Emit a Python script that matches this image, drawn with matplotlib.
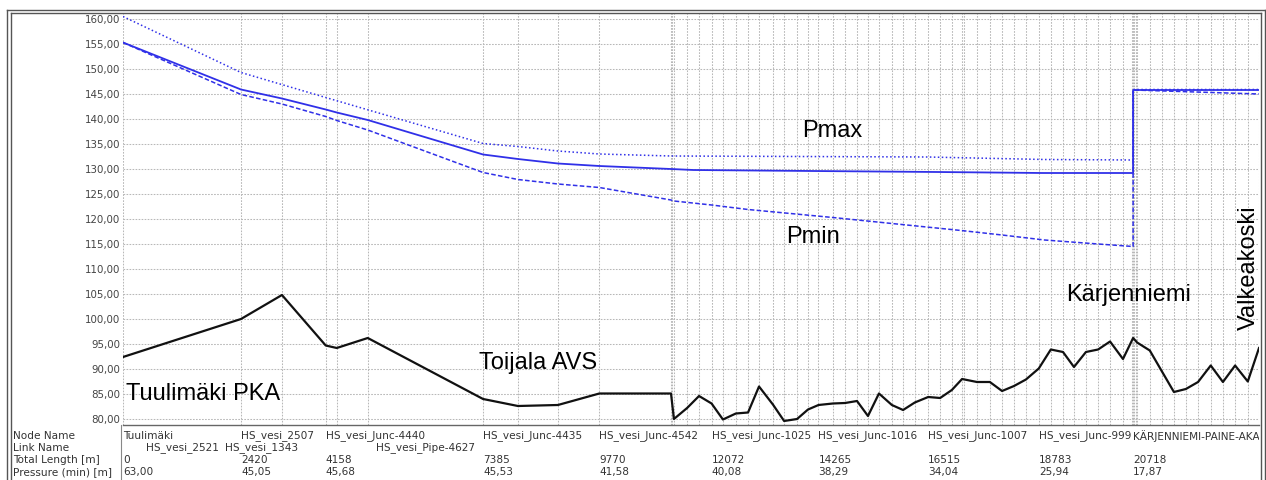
import numpy as np
import matplotlib

matplotlib.use("Agg")
import matplotlib.pyplot as plt
from matplotlib import transforms
from matplotlib.lines import Line2D
from matplotlib.ticker import FuncFormatter

# profile nodes: distance along the route [m] and ground level
node_m = [0, 2420, 3260, 4158, 4384, 5020, 7385, 8100, 8920, 9770,
          11240, 11300, 11570, 11815, 12072, 12305, 12570, 12820, 13045, 13330,
          13560, 13825, 14050, 14265, 14560, 14810, 15055, 15280, 15505, 15770,
          16000, 16240, 16515, 16760, 17000, 17210, 17515, 17780, 18030, 18275,
          18520, 18783, 19030, 19280, 19505, 19750, 20000, 20245, 20510, 20718,
          20800, 21060, 21310, 21555, 21800, 22050, 22310, 22560, 22810, 23070,
          23300]
ground = [92.4, 100.0, 104.8, 94.7, 94.2, 96.2, 84.0, 82.6, 82.8, 85.1,
          85.1, 80.0, 82.2, 84.6, 83.1, 79.9, 81.1, 81.3, 86.5, 82.9,
          79.6, 80.0, 81.9, 82.8, 83.1, 83.2, 83.6, 80.6, 85.1, 82.8,
          81.8, 83.3, 84.4, 84.2, 85.8, 88.0, 87.4, 87.4, 85.6, 86.6,
          87.9, 90.1, 93.9, 93.4, 90.4, 93.4, 93.9, 95.5, 92.0, 96.2,
          95.3, 93.7, 89.5, 85.4, 86.0, 87.4, 90.7, 87.4, 90.7, 87.5,
          94.2]
# closely spaced nodes that show as thicker grid bands
extra_nodes = [11270, 17250, 20700, 20740, 20770]

# hydraulic grade lines
hgl_m = [0, 2420, 3260, 4158, 4384, 5020, 7385, 8100, 8920, 9770, 11240,
         11700, 14150, 16700, 18850, 20718, 20718, 23300]
hgl = [155.3, 145.9, 144.1, 141.9, 141.3, 139.8, 132.9, 132.0, 131.1, 130.6, 130.0,
       129.8, 129.6, 129.4, 129.2, 129.2, 145.8, 145.8]

pmax_m = [0, 2420, 4158, 7385, 8100, 8920, 9770, 11240, 16500, 18900, 20718, 20718, 23300]
pmax = [160.5, 149.3, 144.3, 135.1, 134.5, 133.6, 133.0, 132.6, 132.4, 131.9, 131.8, 145.9, 145.9]

pmin_m = [0, 2420, 3260, 4158, 4384, 5020, 7385, 8100, 8920, 9770, 11240, 11300,
          12072, 12820, 14560, 15770, 17190, 18030, 18900, 20000, 20718, 20718, 23300]
pmin = [155.3, 144.9, 143.0, 140.5, 139.7, 137.8, 129.3, 127.9, 127.0, 126.3, 123.8, 123.6,
        122.8, 121.9, 120.3, 119.1, 117.7, 116.8, 115.8, 115.0, 114.5, 145.8, 145.0]

# table below the profile
row_names = ["Node Name", "Link Name", "Total Length [m]", "Pressure (min) [m]"]
table_m = [0, 2420, 4158, 7385, 9770, 12072, 14265, 16515, 18783, 20718]
table_nodes = ["Tuulimäki", "HS_vesi_2507", "HS_vesi_Junc-4440", "HS_vesi_Junc-4435",
               "HS_vesi_Junc-4542", "HS_vesi_Junc-1025", "HS_vesi_Junc-1016",
               "HS_vesi_Junc-1007", "HS_vesi_Junc-999", "KÄRJENNIEMI-PAINE-AKA"]
table_len = ["0", "2420", "4158", "7385", "9770", "12072", "14265", "16515", "18783", "20718"]
table_press = ["63,00", "45,05", "45,68", "45,53", "41,58", "40,08", "38,29", "34,04",
               "25,94", "17,87"]
link_from = [0, 2420, 5020]
link_to = [2420, 3260, 7385]
link_names = ["HS_vesi_2521", "HS_vesi_1343", "HS_vesi_Pipe-4627"]

# place names written on the chart
places = ["Tuulimäki PKA", "Toijala AVS", "Kärjenniemi", "Pmax", "Pmin"]
place_m = [60, 7300, 19340, 13920, 13600]
place_y = [85.0, 91.2, 104.8, 137.6, 116.4]

W, H = 1266, 480
fig = plt.figure(figsize=(W / 100, H / 100), dpi=100)
ax = fig.add_axes([123 / W, 1 - 425 / H, (1259 - 123) / W, (425 - 13) / H])

grid_kw = dict(color="#b8b8b8", linewidth=0.75, linestyle=(0, (1.6, 1.3)), zorder=1)
for v in list(node_m) + extra_nodes:
    ax.axvline(v, **grid_kw)
yt = np.arange(80, 161, 5)
for v in yt:
    ax.axhline(v, **grid_kw)

blue = "#3030e8"
ax.plot(pmax_m, pmax, color=blue, lw=1.1, linestyle=(0, (1.0, 1.6)), zorder=3)
ax.plot(pmin_m, pmin, color=blue, lw=1.1, linestyle=(0, (3.0, 1.5)), zorder=3)
ax.plot(hgl_m, hgl, color=blue, lw=1.3, zorder=4)
ax.plot(node_m, ground, color="#111111", lw=1.6, zorder=5)

ax.set_xlim(0, 23300)
ax.set_ylim(78.8, 161.2)
ax.set_xticks([])
ax.set_yticks(yt)
ax.yaxis.set_major_formatter(FuncFormatter(lambda v, _: f"{v:.2f}".replace(".", ",")))
ax.tick_params(axis="y", length=0, pad=2, labelsize=7.4, labelcolor="#444444")
for side in ("top", "right", "left"):
    ax.spines[side].set_visible(False)
ax.spines["bottom"].set_color("#666666")
ax.spines["bottom"].set_linewidth(1.0)

big = dict(fontsize=17, family="Liberation Sans", color="black", zorder=6)
for name, xm, yv in zip(places, place_m, place_y):
    ax.text(xm, yv, name, ha="left", va="center", **big)
ax.text(1260 / W, 1 - 268 / H, "Valkeakoski", rotation=90, ha="right", va="center",
        transform=fig.transFigure, **big)

# table text
tr = transforms.blended_transform_factory(ax.transData, fig.transFigure)
row_y = [436, 448, 460, 472]
tkw = dict(fontsize=7.6, color="#333333", va="center")
clip = transforms.TransformedBbox(transforms.Bbox([[0, 0], [1259 / W, 1]]), fig.transFigure)
for name, yp in zip(row_names, row_y):
    fig.text(13 / W, 1 - yp / H, name, ha="left", **tkw)
for xm, nd, ln, pr in zip(table_m, table_nodes, table_len, table_press):
    for txt, yp in zip((nd, ln, pr), (row_y[0], row_y[2], row_y[3])):
        t = ax.text(xm, 1 - yp / H, txt, ha="left", transform=tr, **tkw)
        t.set_clip_box(clip)
        t.set_clip_on(True)
for a, b, name in zip(link_from, link_to, link_names):
    ax.text((a + b) / 2, 1 - row_y[1] / H, name, ha="center", transform=tr, **tkw)

# window frame
def fline(x0, y0, x1, y1, **kw):
    fig.add_artist(Line2D([x0 / W, x1 / W], [1 - y0 / H, 1 - y1 / H],
                          transform=fig.transFigure, **kw))

frame_kw = dict(color="#555555", lw=1.0)
fline(7, 10, 1265, 10, **frame_kw)
fline(10.5, 12.5, 1261, 12.5, **frame_kw)
fline(7, 10, 7, 480, **frame_kw)
fline(10.5, 12.5, 10.5, 480, **frame_kw)
fline(1265, 10, 1265, 480, **frame_kw)
fline(1261, 12.5, 1261, 480, **frame_kw)
fline(121, 425, 121, 480, color="#888888", lw=0.8)

fig.savefig("out.png", dpi=100)
